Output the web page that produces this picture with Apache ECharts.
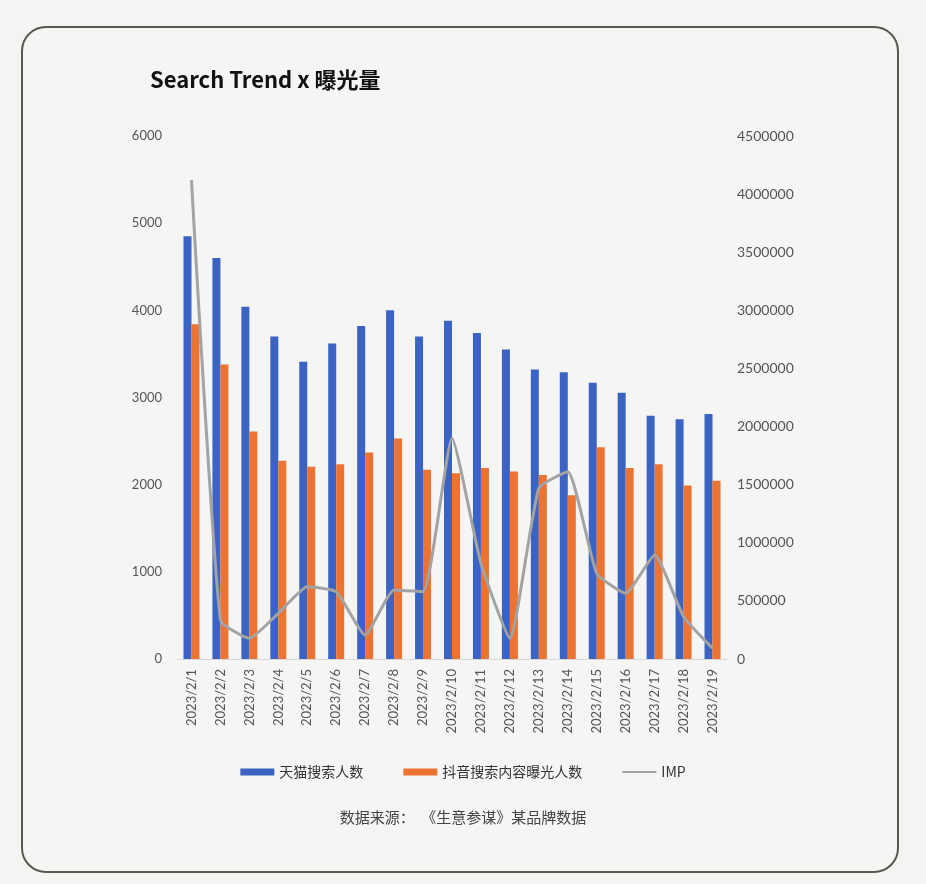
<!DOCTYPE html>
<html><head><meta charset="utf-8">
<script src="https://cdn.jsdelivr.net/npm/echarts@6/dist/echarts.min.js"></script>
<style>html,body{margin:0;padding:0;background:#f4f4f2;}#c{width:926px;height:884px;}</style>
</head><body><div id="c"></div>
<script>
const categories = ['2023/2/1','2023/2/2','2023/2/3','2023/2/4','2023/2/5','2023/2/6','2023/2/7','2023/2/8','2023/2/9','2023/2/10','2023/2/11','2023/2/12','2023/2/13','2023/2/14','2023/2/15','2023/2/16','2023/2/17','2023/2/18','2023/2/19'];
const tmallSearch = [4850,4600,4040,3700,3410,3620,3820,4000,3700,3880,3740,3550,3320,3290,3170,3055,2790,2750,2810];
const douyinExposure = [3840,3380,2610,2275,2205,2235,2370,2530,2170,2130,2190,2150,2110,1880,2430,2190,2235,1990,2045];
const imp = [4120000,335000,178000,393000,622000,579000,206000,594000,579000,1900000,823000,178000,1470000,1612000,737000,565000,895000,364000,92000];
const seriesNames = ['天猫搜索人数','抖音搜索内容曝光人数','IMP'];

const chart = echarts.init(document.getElementById('c'));
const labelFont = 'Lato, "Noto Sans CJK SC", sans-serif';
chart.setOption({
  backgroundColor: '#f4f4f2',
  animation: false,
  graphic: [
    {type:'rect', shape:{x:22,y:27,width:876,height:845,r:24}, style:{fill:'#f5f5f3', stroke:'#5c584f', lineWidth:2}, z:-10},
    {type:'text', left:150, top:69, style:{text:'Search Trend x 曝光量', font:'bold 22px "Noto Sans CJK SC", Lato, sans-serif', fill:'#111'}},
    {type:'text', left:'center', top:810, style:{text:'数据来源：  《生意参谋》某品牌数据', font:'15px "Noto Sans CJK SC", sans-serif', fill:'#444'}}
  ],
  legend: {
    bottom: 100, left: 'center', itemGap: 40,
    itemWidth: 34, itemHeight: 7,
    textStyle: {fontFamily:'"Noto Sans CJK SC", sans-serif', fontSize: 14, color:'#333'},
    data: [
      {name: seriesNames[0], icon:'rect'},
      {name: seriesNames[1], icon:'rect'},
      {name: seriesNames[2], icon:'path://M0,0 L34,0 L34,2 L0,2 Z', itemStyle:{color:'#a3a3a3'}}
    ]
  },
  grid: {left: 177, right: 199, top: 136, bottom: 225},
  xAxis: {
    type:'category', data: categories,
    axisLine:{lineStyle:{color:'#d8d8d8'}},
    axisTick:{show:false},
    axisLabel:{rotate:90, interval:0, color:'#555', fontSize:13, fontFamily:labelFont, margin:10}
  },
  yAxis: [
    {type:'value', min:0, max:6000, interval:1000, splitLine:{show:false}, axisLine:{show:false}, axisTick:{show:false},
     axisLabel:{color:'#555', fontSize:13, fontFamily:labelFont, margin:15, formatter: v => String(v)}},
    {type:'value', min:0, max:4500000, interval:500000, splitLine:{show:false}, axisLine:{show:false}, axisTick:{show:false},
     axisLabel:{color:'#555', fontSize:14, fontFamily:labelFont, margin:10, formatter: v => String(v)}}
  ],
  series: [
    {name: seriesNames[0], type:'bar', data: tmallSearch, barWidth: 8, barGap:'0%', itemStyle:{color:'#3b63c4'}},
    {name: seriesNames[1], type:'bar', data: douyinExposure, barWidth: 8, barGap:'0%', itemStyle:{color:'#ec7332'}},
    {name: seriesNames[2], type:'line', yAxisIndex:1, data: imp, smooth:0.15, symbol:'none', lineStyle:{color:'#a3a3a3', width:3}, itemStyle:{color:'#a3a3a3'}}
  ]
});
</script></body></html>
